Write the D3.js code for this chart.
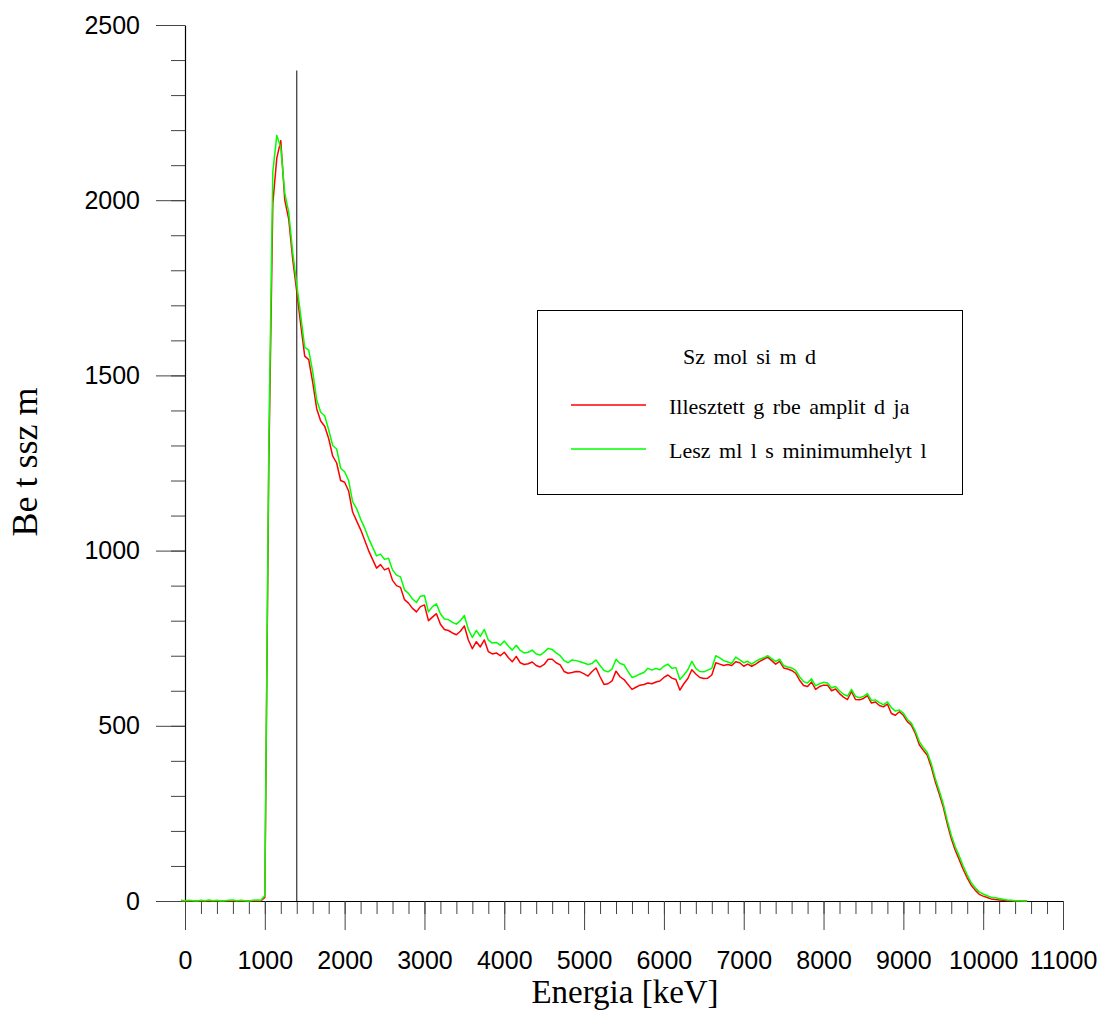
<!DOCTYPE html>
<html>
<head>
<meta charset="utf-8">
<script src="https://cdn.jsdelivr.net/npm/d3@7"></script>
<style>
  html, body { margin: 0; padding: 0; background: #fff; }
  svg { display: block; }
</style>
</head>
<body>
<svg id="chart" width="1106" height="1012"></svg>
<script>
// Energy grid of the spectrum channels (keV)
const E_START = -50, E_STEP = 50, E_END = 10550;
const energy = d3.range(E_START, E_END + 1, E_STEP);

// Counts: fitted curve amplitude (red)
const fittedCounts = [
  0,0,1,0,0,1,0,1,0,0,0,1,0,1,0,0,1,0,0,1,0,
  10,1250,1990,2120,2170,2000,1945,1830,1740,1645,1555,1545,1480,1405,1370,1355,1320,1270,1250,1200,
  1195,1170,1110,1085,1060,1030,1000,975,950,960,945,950,915,900,895,860,850,835,825,840,
  845,800,810,820,790,775,772,765,760,770,785,745,720,740,725,745,712,705,708,700,
  710,695,683,698,680,675,677,682,672,668,675,690,690,680,674,655,650,652,655,654,
  648,642,655,665,640,618,620,628,656,640,632,618,604,610,616,618,622,620,625,628,
  638,645,636,632,602,620,635,660,648,638,635,636,645,680,676,672,675,672,683,680,
  670,676,670,676,684,690,696,686,676,684,665,662,658,650,630,615,612,625,604,612,
  616,616,600,605,592,582,575,598,575,574,578,586,565,568,558,554,562,535,530,540,
  530,512,502,478,446,430,416,382,340,305,268,220,178,145,118,90,66,45,31,19,
  14,10,6,4,3,2,1,1,0,0,0,0
];

// Counts: read from the minimum position (green)
const minimumCounts = [
  2,1,2,1,0,2,1,3,1,2,0,1,2,3,1,2,1,0,2,3,2,
  15,1300,2080,2185,2150,2020,1965,1850,1760,1670,1580,1572,1510,1430,1395,1385,1345,1300,1290,1235,
  1225,1200,1140,1120,1090,1065,1035,1010,985,990,975,978,945,930,925,888,878,862,852,870,
  872,825,840,848,820,805,803,795,790,800,815,775,752,772,755,775,745,736,738,730,
  742,728,716,730,715,708,710,716,705,702,710,721,718,708,700,686,680,688,686,683,
  679,675,678,688,672,658,654,662,690,678,674,655,638,642,648,652,664,659,664,660,
  670,676,664,666,632,645,660,684,664,655,654,659,664,700,694,686,682,678,696,688,
  680,684,676,684,690,694,700,692,684,690,672,668,665,658,640,626,622,634,614,620,
  624,622,608,612,600,590,585,604,584,580,584,592,572,574,566,560,568,552,542,545,
  536,518,508,485,455,438,424,392,350,315,277,230,188,155,128,100,75,52,38,26,
  20,15,11,9,7,5,3,2,1,1,0,0
];

// Marker line position
const markerEnergy = 1400;
const markerTop = 2370;

// Axis ticks
const xMajorTicks = d3.range(0, 11001, 1000);
const xMinorTicks = d3.range(0, 11001, 200);
const yMajorTicks = d3.range(0, 2501, 500);
const yMinorTicks = d3.range(0, 2501, 100);

// Legend
const legendTitle = "Sz mol si m d";
const seriesNames = ["Illesztett g rbe amplit d ja", "Lesz ml l s minimumhelyt l"];
const seriesColors = ["#ff0000", "#00ff00"];

const xTitle = "Energia [keV]";
const yTitle = "Be t ssz m";

const svg = d3.select("#chart");
const sansFont = "'Liberation Sans', Arial, sans-serif";
const serifFont = "'Liberation Serif', 'Times New Roman', serif";

const x = d3.scaleLinear().domain([0, 11000]).range([185, 1063]);
const y = d3.scaleLinear().domain([0, 2500]).range([901, 25]);

// X axis: minor ticks, then major ticks with labels
const xMinor = svg.append("g").attr("transform", `translate(0,${y(0)})`)
  .call(d3.axisBottom(x).tickValues(xMinorTicks).tickSize(13).tickSizeOuter(0).tickFormat(""));
xMinor.select(".domain").remove();
const xMajor = svg.append("g").attr("transform", `translate(0,${y(0)})`)
  .call(d3.axisBottom(x).tickValues(xMajorTicks).tickSize(29).tickSizeOuter(0).tickPadding(21).tickFormat(d3.format("d")));

// Y axis
const yMinor = svg.append("g").attr("transform", `translate(${x(0)},0)`)
  .call(d3.axisLeft(y).tickValues(yMinorTicks).tickSize(14).tickSizeOuter(0).tickFormat(""));
yMinor.select(".domain").remove();
const yMajor = svg.append("g").attr("transform", `translate(${x(0)},0)`)
  .call(d3.axisLeft(y).tickValues(yMajorTicks).tickSize(29).tickSizeOuter(0).tickPadding(16).tickFormat(d3.format("d")));

svg.selectAll(".tick line").attr("stroke", "#444").attr("stroke-width", 1);
svg.selectAll(".domain").attr("stroke", "#000").attr("stroke-width", 1.2);
svg.selectAll(".tick text").attr("font-family", sansFont).attr("font-size", 25).attr("fill", "#000");

// Axis titles
svg.append("text")
  .attr("x", 625).attr("y", 1003)
  .attr("text-anchor", "middle")
  .attr("font-family", serifFont).attr("font-size", 33)
  .text(xTitle);

svg.append("text")
  .attr("transform", `translate(37,462) rotate(-90)`)
  .attr("text-anchor", "middle")
  .attr("font-family", serifFont).attr("font-size", 36)
  .text(yTitle);

// Marker line
svg.append("line")
  .attr("x1", x(markerEnergy)).attr("x2", x(markerEnergy))
  .attr("y1", y(0)).attr("y2", y(markerTop))
  .attr("stroke", "#333").attr("stroke-width", 1.2);

// Spectrum curves
const line = d3.line()
  .x((d, i) => x(energy[i]))
  .y(d => y(d));

[fittedCounts, minimumCounts].forEach((series, k) => {
  svg.append("path")
    .datum(series)
    .attr("fill", "none")
    .attr("stroke", seriesColors[k])
    .attr("stroke-width", 1.5)
    .attr("stroke-linejoin", "round")
    .attr("d", line);
});

// Legend
const legend = svg.append("g");
legend.append("rect")
  .attr("x", 537.5).attr("y", 310.5)
  .attr("width", 425).attr("height", 184)
  .attr("fill", "#fff").attr("stroke", "#000").attr("stroke-width", 1);
legend.append("text")
  .attr("x", 683).attr("y", 364)
  .attr("font-family", serifFont).attr("font-size", 22)
  .attr("word-spacing", 3)
  .text(legendTitle);
seriesNames.forEach((name, k) => {
  const ly = 405 + k * 44;
  legend.append("line")
    .attr("x1", 571).attr("x2", 646)
    .attr("y1", ly).attr("y2", ly)
    .attr("stroke", seriesColors[k]).attr("stroke-width", 1.5);
  legend.append("text")
    .attr("x", 669).attr("y", ly + 9)
    .attr("font-family", serifFont).attr("font-size", 22)
    .attr("word-spacing", 3)
    .text(name);
});
</script>
</body>
</html>
